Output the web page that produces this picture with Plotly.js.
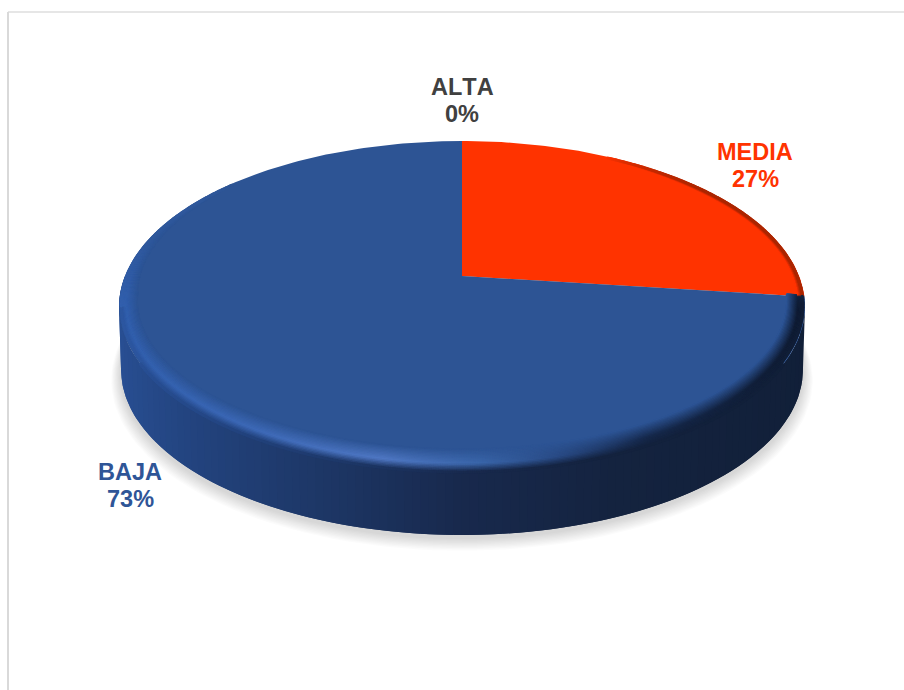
<!DOCTYPE html>
<html>
<head>
<meta charset="utf-8">
<script src="https://cdn.plot.ly/plotly-3.0.1.min.js"></script>
<style>html,body{margin:0;padding:0;background:#fff;overflow:hidden} svg text{font-kerning:none}</style>
</head>
<body>
<div id="chart" style="width:904px;height:690px"></div>
<script>
// Share of cases per level, clockwise from twelve o'clock.
const categories = ['ALTA', 'MEDIA', 'BAJA'];
const shares = [0, 27, 73];
const sliceColors = ['#404040', '#ff3300', '#2d5494'];
const labelColors = ['#404040', '#ff3300', '#2f5597'];

// Disc drawn in page-sized units: a circle seen in perspective.
const CX = 462, APEX_Y = 276, PERSP = 0.1843, DEPTH_Y = 109, RADIUS_X = 337.1;
const WALL_DROP = 63, BASE_SCALE = 0.994;

// Label anchors per category, one row each for name and percentage.
const labelX = [462, 755, 130];
const labelY = [87, 152, 472];
const LABEL_LEADING = 27;

// Colour ramps along the horizontal extent of the disc.
const wallStops = [[119,[42,82,153]],[250,[34,66,124]],[380,[28,52,97]],[470,[24,41,77]],[600,[20,35,63]],[805,[17,31,56]]];
const rimStops = [[119,[50,96,174]],[250,[62,106,184]],[380,[80,120,196]],[480,[58,102,170]],[560,[41,74,132]],[650,[22,41,76]],[805,[16,28,51]]];

const hex = h => [1,3,5].map(i => parseInt(h.substr(i,2),16));
const mix = (a,b,t) => a.map((v,i) => v + (b[i]-v)*t);
const css = c => `rgb(${c.map(Math.round).join(',')})`;
const clamp = (t,a,b) => Math.min(b, Math.max(a, t));
function ramp(stops, x) {
  if (x <= stops[0][0]) return stops[0][1];
  for (let i = 1; i < stops.length; i++) {
    if (x <= stops[i][0]) return mix(stops[i-1][1], stops[i][1], (x-stops[i-1][0])/(stops[i][0]-stops[i-1][0]));
  }
  return stops[stops.length-1][1];
}
function project(u, v, scale = 1, drop = 0) {
  const w = 1 - PERSP*v;
  return [CX + RADIUS_X*scale*u/w, (APEX_Y + DEPTH_Y*v)/w + drop];
}
const polar = deg => [Math.sin(deg*Math.PI/180), -Math.cos(deg*Math.PI/180)];

const traces = [];
const total = shares.reduce((a,b) => a+b, 0);

// Soft ground shadow under the base of the disc.
const SHADOW_LAYERS = 10;
for (let k = 0; k < SHADOW_LAYERS; k++) {
  const grow = 1 + (SHADOW_LAYERS-k)*0.0028, x = [], y = [];
  for (let a = 0; a <= 360; a += 2) {
    const [u,v] = polar(a), p = project(u, v*grow, BASE_SCALE*grow, WALL_DROP + 3 + (SHADOW_LAYERS-k)*0.6);
    x.push(p[0]); y.push(p[1]);
  }
  traces.push({x, y, mode:'lines', fill:'toself', fillcolor:'rgba(0,0,0,0.014)', line:{width:0}, hoverinfo:'skip'});
}

// Side wall: vertical strips of even width, each overlapped by its neighbour.
const wallAngles = [];
for (let s = 0.999; s > -0.999; s -= 0.02) wallAngles.push(180 - Math.asin(s)*180/Math.PI);
wallAngles.push(270);
const wallTraces = [];
for (let i = 0; i < wallAngles.length - 1; i++) {
  const a0 = wallAngles[i], a1 = wallAngles[Math.min(i+2, wallAngles.length-1)], x = [], y = [];
  const top = [], bottom = [];
  for (let a = a0; a <= a1 + 1e-6; a += (a1-a0)/6) {
    const [u,v] = polar(a);
    top.push(project(u,v));
    bottom.push(project(u,v,BASE_SCALE,WALL_DROP));
  }
  top.forEach(p => { x.push(p[0]); y.push(p[1]); });
  bottom.reverse().forEach(p => { x.push(p[0]); y.push(p[1]); });
  x.push(x[0]); y.push(y[0]);
  const [um] = polar(wallAngles[i]);
  const col = css(ramp(wallStops, project(um, 0)[0]));
  wallTraces.unshift({x, y, mode:'lines', fill:'toself', fillcolor:col, line:{width:0}, hoverinfo:'skip'});
}
traces.push(...wallTraces);

// Top faces of the slices, from the shares.
const spans = [];
let startDeg = 0;
shares.forEach((s, i) => {
  const sweep = s/total*360, x = [], y = [];
  spans.push([startDeg, startDeg+sweep]);
  const apex = project(0,0);
  x.push(apex[0]); y.push(apex[1]);
  const steps = Math.max(1, Math.ceil(sweep));
  for (let j = 0; j <= steps; j++) {
    const [u,v] = polar(startDeg + sweep*j/steps), p = project(u,v);
    x.push(p[0]); y.push(p[1]);
  }
  x.push(apex[0]); y.push(apex[1]);
  traces.push({x, y, name:categories[i], mode:'lines', fill:'toself', fillcolor:sliceColors[i],
    line:{width:0}, hoverinfo:'skip'});
  startDeg += sweep;
});

// Bevel along the edge of the top face, painted as fine dots from inside out.
const BEVEL = 16, RED_BEVEL = 5;
const rimX = [], rimY = [], rimC = [];
for (let d = BEVEL; d >= 0; d -= 1) {
  for (let a = 0; a < 360; a += 0.25) {
    const [u,v] = polar(a);
    const idx = spans.findIndex(sp => a >= sp[0] && a < sp[1]);
    const slice = idx < 0 ? 2 : idx;
    const width = slice === 1 ? RED_BEVEL * clamp((u-0.3)/0.5, 0, 1) : BEVEL * clamp((v+0.75)/0.85, 0, 1);
    if (width <= 0 || d > width) continue;
    // Keep the dots inside the silhouette except along the front of the disc.
    if (v <= 0.5 && d < 1.6) continue;
    const t = clamp(d/width, 0, 1);
    const p = project(u*(1-d/RADIUS_X), v*(1-d/170));
    const edge = project(u,v);
    const base = hex(sliceColors[slice]);
    const crest = slice === 1
      ? mix(base, [90,25,0], 0.85)
      : mix(base, ramp(rimStops, edge[0]), clamp((v+0.4)/0.6,0.25,1));
    let c;
    if (slice === 1) c = mix(crest, base, t);
    else if (t < 0.35 && v > PERSP) c = mix(ramp(wallStops, edge[0]), crest, t/0.35);
    else c = t < 0.35 ? crest : mix(crest, base, (t-0.35)/0.65);
    rimX.push(p[0]); rimY.push(p[1]); rimC.push(css(c));
  }
}
traces.push({x:rimX, y:rimY, mode:'markers', marker:{size:3.2, color:rimC, line:{width:0}}, hoverinfo:'skip'});

// Labels: name on one row, percentage on the next.
const annotations = [];
categories.forEach((name, i) => {
  [name, shares[i] + '%'].forEach((text, row) => {
    annotations.push({x:labelX[i], y:labelY[i] + row*LABEL_LEADING, xref:'x', yref:'y', text, showarrow:false,
      xanchor:'center', yanchor:'middle',
      font:{family:'"Liberation Sans", Arial, sans-serif', size:23.5, color:labelColors[i], weight:700}});
  });
});

const layout = {
  width:904, height:690, margin:{l:0,r:0,t:0,b:0}, showlegend:false,
  paper_bgcolor:'#ffffff', plot_bgcolor:'#ffffff',
  xaxis:{range:[0,904], visible:false, fixedrange:true},
  yaxis:{range:[690,0], visible:false, fixedrange:true},
  annotations,
  shapes:[
    {type:'line', xref:'x', yref:'y', x0:8, y0:12, x1:904, y1:12, line:{color:'#dedede', width:1.5}, layer:'below'},
    {type:'line', xref:'x', yref:'y', x0:8, y0:12, x1:8, y1:690, line:{color:'#d9d9d9', width:2}, layer:'below'}
  ]
};
Plotly.newPlot('chart', traces, layout, {displayModeBar:false, staticPlot:true});
</script>
</body>
</html>
